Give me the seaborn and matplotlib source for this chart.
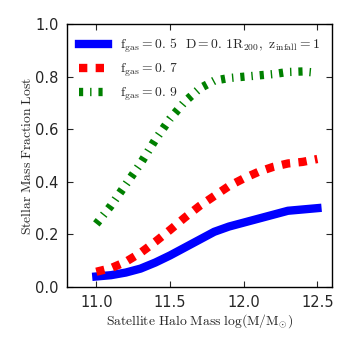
import matplotlib

matplotlib.use("Agg")
import matplotlib.pyplot as plt
import pandas as pd
import seaborn as sns

halo_mass = [11.0, 11.1, 11.2, 11.3, 11.4, 11.5, 11.6, 11.7,
             11.8, 11.9, 12.0, 12.1, 12.2, 12.3, 12.4, 12.5]
lost_fgas05 = [0.040, 0.045, 0.055, 0.070, 0.093, 0.120, 0.150, 0.180,
               0.210, 0.230, 0.245, 0.260, 0.275, 0.290, 0.295, 0.300]
lost_fgas07 = [0.058, 0.072, 0.096, 0.130, 0.172, 0.217, 0.264, 0.308,
               0.346, 0.384, 0.413, 0.438, 0.457, 0.470, 0.476, 0.487]
lost_fgas09 = [0.240, 0.310, 0.390, 0.470, 0.560, 0.640, 0.705, 0.755,
               0.785, 0.795, 0.800, 0.805, 0.810, 0.818, 0.820, 0.815]
fgas_labels = ["0.5", "0.7", "0.9"]

sns.set_style("ticks")
plt.rcParams["mathtext.fontset"] = "cm"
plt.rcParams["font.family"] = ["DejaVu Sans"]
plt.rcParams["lines.scale_dashes"] = False

frames = []
for label, values in zip(fgas_labels, [lost_fgas05, lost_fgas07, lost_fgas09]):
    frames.append(pd.DataFrame({"mass": halo_mass, "lost": values, "fgas": label}))
data = pd.concat(frames, ignore_index=True)

fig = plt.figure(figsize=(3.5, 3.5), dpi=100)
ax = fig.add_axes([0.191, 0.18, 0.758, 0.751])

# classic matplotlib dash patterns, in points
styles = {"0.5": ("blue", "-"), "0.7": ("red", (0, (6, 6))),
          "0.9": ("green", (0, (3, 5, 1, 5)))}
for label in fgas_labels:
    colour, ls = styles[label]
    sns.lineplot(data=data[data["fgas"] == label], x="mass", y="lost", ax=ax,
                 color=colour, linestyle=ls, linewidth=6,
                 solid_capstyle="projecting", dash_capstyle="butt",
                 label=r"$\mathrm{f_{gas}}=0.\," + label[-1] + "$")

ax.set_xlim(10.8, 12.6)
ax.set_ylim(0.0, 1.0)
ax.set_xticks([11.0, 11.5, 12.0, 12.5])
ax.set_yticks([0.0, 0.2, 0.4, 0.6, 0.8, 1.0])
ax.tick_params(direction="in", top=True, right=True, length=4.5, width=0.8,
               labelsize=10.5, pad=6)
for spine in ax.spines.values():
    spine.set_linewidth(1.0)
    spine.set_color("black")

ax.set_xlabel(r"$\mathrm{Satellite\ Halo\ Mass\ log(M/M_{\odot})}$",
              fontsize=9.8, labelpad=1)
ax.set_ylabel(r"$\mathrm{Stellar\ Mass\ Fraction\ Lost}$", fontsize=9.8,
              labelpad=1)
ax.text(12.06, 0.92, r"$\mathrm{D}=0.\,1\mathrm{R_{200}},\ \mathrm{z_{infall}}=1$",
        ha="center", va="center", fontsize=9.8)

ax.legend(loc="upper left", frameon=False, fontsize=9.8, handlelength=2.1,
          handletextpad=0.9, borderaxespad=0.5, labelspacing=0.5)

fig.savefig("out.png", dpi=100)
